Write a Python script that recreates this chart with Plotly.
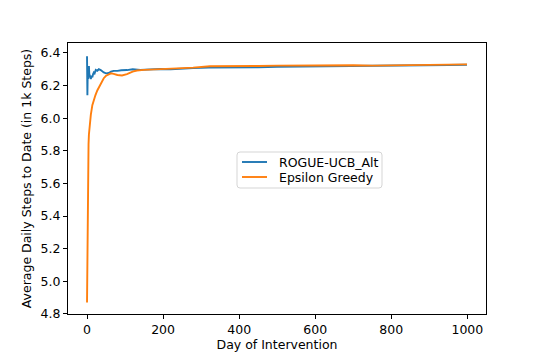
import plotly.graph_objects as go

# running average of daily steps (in 1k steps)
ucb_days = [0, 1, 2, 3, 4, 5, 6, 8, 10, 12, 14, 16, 18, 20, 23, 27, 31, 36, 40, 44,
            50, 57, 63, 70, 80, 90, 105, 120, 140, 160, 192, 220, 250, 279, 320, 366,
            401, 450, 500, 550, 600, 650, 700, 750, 800, 850, 900, 950, 999]
ucb_vals = [6.38, 6.14, 6.31, 6.24, 6.28, 6.32, 6.27, 6.25, 6.24, 6.26, 6.25, 6.27,
            6.28, 6.275, 6.296, 6.29, 6.30, 6.295, 6.285, 6.28, 6.275, 6.277, 6.285,
            6.29, 6.29, 6.294, 6.295, 6.30, 6.296, 6.30, 6.302, 6.30, 6.305, 6.307,
            6.31, 6.31, 6.313, 6.312, 6.315, 6.316, 6.318, 6.32, 6.32, 6.318, 6.321,
            6.322, 6.324, 6.326, 6.328]

eps_days = [0, 1, 2, 3, 4, 5, 7, 10, 14, 18, 22, 27, 31, 36, 40, 44, 50, 57, 63, 70,
            80, 92, 105, 120, 131, 150, 170, 192, 230, 279, 323, 366, 401, 450, 500,
            550, 600, 650, 700, 750, 800, 850, 900, 950, 999]
eps_vals = [4.87, 5.30, 5.60, 5.75, 5.84, 5.90, 5.96, 6.02, 6.08, 6.12, 6.14, 6.17,
            6.19, 6.21, 6.23, 6.245, 6.26, 6.27, 6.275, 6.272, 6.265, 6.262, 6.27,
            6.285, 6.292, 6.296, 6.298, 6.30, 6.303, 6.31, 6.318, 6.32, 6.322, 6.32,
            6.322, 6.323, 6.325, 6.328, 6.325, 6.322, 6.323, 6.325, 6.327, 6.328, 6.33]

x_ticks = [0, 200, 400, 600, 800, 1000]
y_ticks = [4.8, 5.0, 5.2, 5.4, 5.6, 5.8, 6.0, 6.2, 6.4]

series_names = ['ROGUE-UCB_Alt', 'Epsilon Greedy']
series_colors = ['#1f77b4', '#ff7f0e']

font_family = 'DejaVu Sans, sans-serif'
W, H = 540, 360
L, R, T, B = 68, 54, 43, 46


def px(x, y):
    """pixel position on the page -> paper coordinates"""
    return (x - L) / (W - L - R), (H - B - y) / (H - T - B)


fig = go.Figure()
fig.add_trace(go.Scatter(x=ucb_days, y=ucb_vals, mode='lines', name=series_names[0],
                         line=dict(color=series_colors[0], width=1.9)))
fig.add_trace(go.Scatter(x=eps_days, y=eps_vals, mode='lines', name=series_names[1],
                         line=dict(color=series_colors[1], width=1.9)))

axis_style = dict(
    showline=True, linecolor='black', linewidth=1, mirror=True,
    ticks='outside', ticklen=4, tickwidth=1, tickcolor='black',
    showgrid=False, zeroline=False, automargin=False,
    tickfont=dict(size=12.5, color='black'),
)

# matplotlib-style legend box drawn by hand (rounded frame, short handles)
x0, y0 = px(237, 152)
x1, y1 = px(382, 188)
rx, ry = 3 / (W - L - R), 3 / (H - T - B)
box = (f'M {x0 + rx} {y0} L {x1 - rx} {y0} Q {x1} {y0} {x1} {y0 - ry} '
       f'L {x1} {y1 + ry} Q {x1} {y1} {x1 - rx} {y1} L {x0 + rx} {y1} '
       f'Q {x0} {y1} {x0} {y1 + ry} L {x0} {y0 - ry} Q {x0} {y0} {x0 + rx} {y0} Z')
shapes = [dict(type='path', path=box, xref='paper', yref='paper',
               line=dict(color='#d5d5d5', width=1), fillcolor='white', layer='above')]
annotations = []
for i, (name, color) in enumerate(zip(series_names, series_colors)):
    row = 162 + 15 * i
    hx0, hy = px(242, row)
    hx1, _ = px(267, row)
    tx, _ = px(277, row)
    shapes.append(dict(type='line', xref='paper', yref='paper', x0=hx0, x1=hx1, y0=hy, y1=hy,
                       line=dict(color=color, width=1.9), layer='above'))
    annotations.append(dict(text=name, xref='paper', yref='paper', x=tx, y=hy,
                            xanchor='left', yanchor='middle', showarrow=False,
                            font=dict(size=12.5, color='black')))

fig.update_layout(
    width=W, height=H,
    margin=dict(l=L, r=R, t=T, b=B),
    plot_bgcolor='white', paper_bgcolor='white',
    font=dict(family=font_family, size=12.5, color='black'),
    showlegend=False,
    xaxis=dict(
        axis_style, range=[-50, 1049], tickvals=x_ticks,
        title=dict(text='Day of Intervention', font=dict(size=12.5), standoff=3),
    ),
    yaxis=dict(
        axis_style, range=[4.799, 6.461], tickvals=y_ticks, tickformat='.1f',
        title=dict(text='Average Daily Steps to Date (in 1k Steps)', font=dict(size=12.5), standoff=6),
    ),
    shapes=shapes,
    annotations=annotations,
)

# drop the default 8px body margin so the figure sits at the window corner
fig.write_html("out.html", config={'displayModeBar': False},
               post_script="document.body.style.margin='0';")
